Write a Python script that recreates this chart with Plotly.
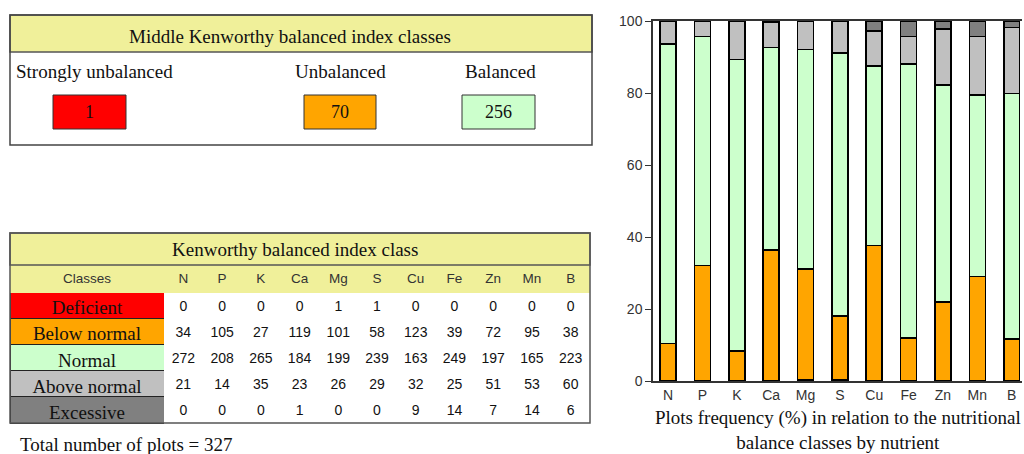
import plotly.graph_objects as go

# ---------------- data ----------------
nutrients = ["N", "P", "K", "Ca", "Mg", "S", "Cu", "Fe", "Zn", "Mn", "B"]
class_names = ["Deficient", "Below normal", "Normal", "Above normal", "Excessive"]
deficient = [0, 0, 0, 0, 1, 1, 0, 0, 0, 0, 0]
below_normal = [34, 105, 27, 119, 101, 58, 123, 39, 72, 95, 38]
normal = [272, 208, 265, 184, 199, 239, 163, 249, 197, 165, 223]
above_normal = [21, 14, 35, 23, 26, 29, 32, 25, 51, 53, 60]
excessive = [0, 0, 0, 1, 0, 0, 9, 14, 7, 14, 6]
total_plots = 327

middle_classes = ["Strongly unbalanced", "Unbalanced", "Balanced"]
middle_counts = [1, 70, 256]

y_ticks = [0, 20, 40, 60, 80, 100]

# ---------------- styles ----------------
class_colors = ["#FF0000", "#FFA500", "#CCFFCC", "#C0C0C0", "#808080"]
middle_colors = ["#FF0000", "#FFA500", "#CCFFCC"]
YELLOW = "#F0F09A"
SERIF = "Liberation Serif, Times New Roman, serif"
SANS = "Liberation Sans, Arial, sans-serif"

W, H = 1024, 454
ROW_H = 26.2
HEAD_TOP = 265
HEAD_H = 27
TBL_L, TBL_R, COL0_R = 10, 590, 164


def px(x):
    return x / W


def py(y):
    return 1 - y / H


series = [deficient, below_normal, normal, above_normal, excessive]
fig = go.Figure()

# ---------------- stacked bar chart ----------------
for name, vals, col in zip(class_names, series, class_colors):
    pct = [v / total_plots * 100 for v in vals]
    fig.add_trace(go.Bar(
        x=nutrients, y=pct, name=name, width=0.465,
        marker=dict(color=col, line=dict(color="#000000", width=1.6)),
        xaxis="x", yaxis="y", showlegend=False, hoverinfo="skip"))

# ---------------- table ----------------
value_cols = []
for i in range(len(nutrients)):
    value_cols.append([str(s[i]) for s in series])

fig.add_trace(go.Table(
    domain=dict(x=[px(TBL_L), px(TBL_R)], y=[py(440), py(HEAD_TOP)]),
    columnwidth=[COL0_R - TBL_L] + [(TBL_R - COL0_R) / len(nutrients)] * len(nutrients),
    header=dict(
        values=["Classes"] + nutrients,
        fill=dict(color=YELLOW),
        line=dict(color=YELLOW, width=1),
        align="center",
        font=dict(family=SANS, size=13.5, color="#333333"),
        height=HEAD_H),
    cells=dict(
        values=[class_names] + value_cols,
        fill=dict(color=[class_colors] + [["#FFFFFF"] * 5] * len(nutrients)),
        line=dict(color=["#222222"] + ["#FFFFFF"] * len(nutrients), width=1),
        align="center",
        font=dict(family=[SERIF] + [SANS] * len(nutrients),
                  size=[19] + [14] * len(nutrients),
                  color="#111111"),
        height=ROW_H),
))

shapes = []
annotations = []


def note(x, y, text, family=SERIF, size=19, xanchor="center", color="#111111"):
    annotations.append(dict(x=px(x), y=py(y), xref="paper", yref="paper",
                            xanchor=xanchor, yanchor="middle", text=text,
                            showarrow=False, font=dict(family=family, size=size, color=color)))


# table title row
shapes.append(dict(type="rect", xref="paper", yref="paper",
                   x0=px(TBL_L), x1=px(TBL_R), y0=py(HEAD_TOP), y1=py(233),
                   fillcolor=YELLOW, line=dict(color="#555555", width=1.5)))
note(295, 249, "Kenworthy balanced index class")

body_top = HEAD_TOP + HEAD_H
n_rows = len(class_names)
# outer frame of table
shapes.append(dict(type="rect", xref="paper", yref="paper",
                   x0=px(TBL_L), x1=px(TBL_R), y0=py(body_top + n_rows * ROW_H), y1=py(233),
                   line=dict(color="#555555", width=1.5)))

note(18, 444, f"Total number of plots = {total_plots}", xanchor="left")

# ---------------- top box ----------------
shapes.append(dict(type="rect", xref="paper", yref="paper",
                   x0=px(10), x1=px(592), y0=py(52), y1=py(15),
                   fillcolor=YELLOW, line=dict(color="#555555", width=1.5)))
shapes.append(dict(type="rect", xref="paper", yref="paper",
                   x0=px(10), x1=px(592), y0=py(145), y1=py(15),
                   line=dict(color="#444444", width=1.5)))
note(290, 37, "Middle Kenworthy balanced index classes")

label_centers = [94, 340, 500]
box_spans = [(53, 126), (304, 376), (462, 535)]
for name, cnt, col, cx, (b0, b1) in zip(middle_classes, middle_counts, middle_colors,
                                        label_centers, box_spans):
    note(cx, 71, name)
    shapes.append(dict(type="rect", xref="paper", yref="paper",
                       x0=px(b0), x1=px(b1), y0=py(129), y1=py(95),
                       fillcolor=col, line=dict(color="#333333", width=1)))
    note((b0 + b1) / 2, 112, str(cnt), size=18)

# chart caption
note(838, 430, "Plots frequency (%) in relation to the nutritional<br>balance classes by nutrient")

fig.update_layout(
    width=W, height=H,
    margin=dict(l=0, r=0, t=0, b=0, pad=0, autoexpand=False),
    paper_bgcolor="white", plot_bgcolor="white",
    barmode="stack", bargap=0.5,
    shapes=shapes, annotations=annotations,
    xaxis=dict(domain=[px(653), px(1022)], range=[-0.44, 10.3], automargin=False,
               showline=True, linecolor="#333333", linewidth=1.5, mirror=True,
               ticks="", showgrid=False, zeroline=False,
               tickfont=dict(family=SANS, size=14, color="#333333")),
    yaxis=dict(domain=[py(381), py(21)], range=[0, 100], automargin=False,
               tickvals=y_ticks, showline=True, linecolor="#333333", linewidth=1.5,
               ticks="outside", ticklen=6, tickcolor="#333333",
               showgrid=False, zeroline=False,
               tickfont=dict(family=SANS, size=14, color="#333333")),
)

fig.write_html("out.html", config={"displayModeBar": False},
               post_script="document.body.style.margin='0px';document.body.style.overflow='hidden';")
